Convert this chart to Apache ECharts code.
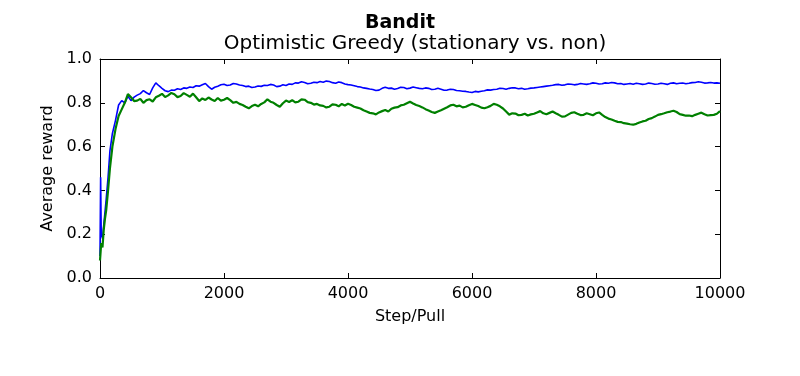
<!DOCTYPE html>
<html>
<head>
<meta charset="utf-8">
<script src="https://cdn.jsdelivr.net/npm/echarts@6/dist/echarts.min.js"></script>
<style>
  html, body { margin: 0; padding: 0; background: #fff; }
  #chart { width: 800px; height: 376px; }
</style>
</head>
<body>
<div id="chart"></div>
<script>
var steps = [0, 10, 20, 40, 60, 80, 100, 130, 160, 200, 250, 300, 350, 400, 450,
  500, 550, 600, 650, 700, 750, 800, 850, 900, 950,
  1000, 1050, 1100, 1150, 1200, 1250, 1300, 1350, 1400, 1450, 1500, 1550, 1600, 1650, 1700, 1750, 1800, 1850, 1900, 1950,
  2000, 2050, 2100, 2150, 2200, 2250, 2300, 2350, 2400, 2450, 2500, 2550, 2600, 2650, 2700, 2750, 2800, 2850, 2900, 2950,
  3000, 3050, 3100, 3150, 3200, 3250, 3300, 3350, 3400, 3450, 3500, 3550, 3600, 3650, 3700, 3750, 3800, 3850, 3900, 3950,
  4000, 4050, 4100, 4150, 4200, 4250, 4300, 4350, 4400, 4450, 4500, 4550, 4600, 4650, 4700, 4750, 4800, 4850, 4900, 4950,
  5000, 5050, 5100, 5150, 5200, 5250, 5300, 5350, 5400, 5450, 5500, 5550, 5600, 5650, 5700, 5750, 5800, 5850, 5900, 5950,
  6000, 6050, 6100, 6150, 6200, 6250, 6300, 6350, 6400, 6450, 6500, 6550, 6600, 6650, 6700, 6750, 6800, 6850, 6900, 6950,
  7000, 7050, 7100, 7150, 7200, 7250, 7300, 7350, 7400, 7450, 7500, 7550, 7600, 7650, 7700, 7750, 7800, 7850, 7900, 7950,
  8000, 8050, 8100, 8150, 8200, 8250, 8300, 8350, 8400, 8450, 8500, 8550, 8600, 8650, 8700, 8750, 8800, 8850, 8900, 8950,
  9000, 9050, 9100, 9150, 9200, 9250, 9300, 9350, 9400, 9450, 9500, 9550, 9600, 9650, 9700, 9750, 9800, 9850, 9900, 9950,
  10000];

// stationary bandit (blue)
var stationary = [0.10, 0.46, 0.20, 0.18, 0.24, 0.30, 0.36, 0.46, 0.58, 0.66, 0.72, 0.79, 0.81, 0.80, 0.83,
  0.810, 0.826, 0.835, 0.842, 0.856, 0.846, 0.838, 0.868, 0.891, 0.878,
  0.866, 0.855, 0.851, 0.858, 0.857, 0.864, 0.861, 0.868, 0.866, 0.872, 0.870, 0.878, 0.876, 0.882, 0.888, 0.874, 0.862, 0.871, 0.876, 0.882,
  0.885, 0.879, 0.881, 0.888, 0.886, 0.881, 0.879, 0.874, 0.876, 0.870, 0.872, 0.877, 0.875, 0.880, 0.879, 0.884, 0.881, 0.874, 0.876, 0.882,
  0.879, 0.886, 0.884, 0.891, 0.890, 0.896, 0.893, 0.887, 0.889, 0.894, 0.892, 0.897, 0.894, 0.899, 0.897, 0.892, 0.889, 0.895, 0.892, 0.886,
  0.883, 0.881, 0.878, 0.874, 0.872, 0.868, 0.866, 0.863, 0.861, 0.856, 0.858, 0.866, 0.871, 0.866, 0.867, 0.862, 0.865, 0.871, 0.870, 0.864,
  0.867, 0.872, 0.869, 0.866, 0.864, 0.868, 0.866, 0.861, 0.862, 0.866, 0.862, 0.857, 0.858, 0.862, 0.861, 0.856, 0.855, 0.853, 0.852, 0.849,
  0.847, 0.852, 0.850, 0.853, 0.855, 0.859, 0.858, 0.861, 0.862, 0.866, 0.865, 0.862, 0.866, 0.869, 0.868, 0.864, 0.866, 0.862, 0.864, 0.867,
  0.868, 0.870, 0.872, 0.874, 0.876, 0.878, 0.880, 0.883, 0.884, 0.880, 0.882, 0.886, 0.885, 0.882, 0.884, 0.888, 0.886, 0.884, 0.887, 0.891,
  0.889, 0.886, 0.887, 0.891, 0.889, 0.893, 0.891, 0.887, 0.888, 0.884, 0.886, 0.888, 0.885, 0.889, 0.887, 0.884, 0.886, 0.890, 0.888, 0.885,
  0.886, 0.889, 0.887, 0.884, 0.889, 0.891, 0.887, 0.889, 0.890, 0.887, 0.889, 0.892, 0.893, 0.896, 0.894, 0.890, 0.891, 0.893, 0.890, 0.891,
  0.889];

// non-stationary bandit (green)
var nonStationary = [0.08, 0.12, 0.16, 0.14, 0.22, 0.27, 0.31, 0.40, 0.50, 0.60, 0.68, 0.74, 0.77, 0.80, 0.84,
  0.825, 0.808, 0.810, 0.818, 0.800, 0.812, 0.816, 0.806, 0.825, 0.832,
  0.841, 0.826, 0.834, 0.845, 0.839, 0.826, 0.831, 0.844, 0.836, 0.828, 0.842, 0.825, 0.808, 0.820, 0.813, 0.824, 0.815, 0.808, 0.822, 0.810,
  0.814, 0.822, 0.812, 0.800, 0.804, 0.795, 0.790, 0.782, 0.775, 0.785, 0.791, 0.784, 0.795, 0.802, 0.816, 0.805, 0.800, 0.790, 0.782, 0.798,
  0.810, 0.804, 0.812, 0.802, 0.805, 0.816, 0.814, 0.803, 0.800, 0.792, 0.795, 0.788, 0.786, 0.779, 0.782, 0.793, 0.791, 0.784, 0.795, 0.788,
  0.796, 0.790, 0.782, 0.778, 0.774, 0.766, 0.760, 0.754, 0.752, 0.747, 0.756, 0.762, 0.767, 0.760, 0.773, 0.778, 0.780, 0.788, 0.791, 0.798,
  0.805, 0.797, 0.790, 0.785, 0.779, 0.771, 0.765, 0.758, 0.754, 0.760, 0.766, 0.773, 0.780, 0.788, 0.791, 0.784, 0.787, 0.779, 0.782, 0.789,
  0.795, 0.790, 0.785, 0.778, 0.775, 0.780, 0.786, 0.795, 0.791, 0.784, 0.774, 0.760, 0.746, 0.752, 0.751, 0.743, 0.745, 0.750, 0.742, 0.747,
  0.750, 0.756, 0.762, 0.752, 0.748, 0.754, 0.760, 0.752, 0.745, 0.737, 0.738, 0.746, 0.754, 0.757, 0.750, 0.744, 0.745, 0.752, 0.748, 0.743,
  0.752, 0.756, 0.745, 0.735, 0.728, 0.724, 0.718, 0.713, 0.712, 0.707, 0.705, 0.702, 0.700, 0.704, 0.710, 0.715, 0.718, 0.726, 0.730, 0.737,
  0.745, 0.748, 0.752, 0.757, 0.760, 0.764, 0.758, 0.748, 0.745, 0.741, 0.742, 0.739, 0.745, 0.750, 0.755, 0.748, 0.742, 0.744, 0.745, 0.750,
  0.762];

var font = 'DejaVu Sans';

var toPairs = function (ys) {
  return steps.map(function (s, i) { return [s, ys[i]]; });
};

var axisLine = { show: true, onZero: false, lineStyle: { color: '#000', width: 1 } };
var tick = { show: true, inside: true, length: 5, lineStyle: { color: '#000', width: 1 } };

var option = {
  animation: false,
  backgroundColor: '#fff',
  textStyle: { fontFamily: font, color: '#000' },
  title: [
    {
      text: 'Bandit',
      left: 'center',
      top: 9,
      textStyle: { fontFamily: font, fontSize: 19, fontWeight: 'bold', color: '#000' }
    },
    {
      text: 'Optimistic Greedy (stationary vs. non)',
      left: 410,
      textAlign: 'center',
      top: 29,
      textStyle: { fontFamily: font, fontSize: 20, fontWeight: 'normal', color: '#000' }
    }
  ],
  grid: { left: 100, right: 80, top: 59, bottom: 98, containLabel: false },
  xAxis: [
    {
      type: 'value',
      min: 0,
      max: 10000,
      interval: 2000,
      name: 'Step/Pull',
      nameLocation: 'middle',
      nameGap: 31,
      nameTextStyle: { fontFamily: font, fontSize: 16, color: '#000' },
      axisLine: axisLine,
      axisTick: tick,
      splitLine: { show: false },
      axisLabel: {
        fontFamily: font, fontSize: 16, color: '#000', margin: 8,
        formatter: function (v) { return String(v); }
      }
    },
    {
      type: 'value',
      position: 'top',
      min: 0,
      max: 10000,
      interval: 2000,
      axisLine: axisLine,
      axisTick: tick,
      splitLine: { show: false },
      axisLabel: { show: false }
    }
  ],
  yAxis: [
    {
      type: 'value',
      min: 0,
      max: 1,
      interval: 0.2,
      name: 'Average reward',
      nameLocation: 'middle',
      nameGap: 38,
      nameTextStyle: { fontFamily: font, fontSize: 16, color: '#000' },
      axisLine: axisLine,
      axisTick: tick,
      splitLine: { show: false },
      axisLabel: {
        fontFamily: font, fontSize: 16, color: '#000', margin: 8,
        formatter: function (v) { return v.toFixed(1); }
      }
    },
    {
      type: 'value',
      position: 'right',
      min: 0,
      max: 1,
      interval: 0.2,
      axisLine: axisLine,
      axisTick: tick,
      splitLine: { show: false },
      axisLabel: { show: false }
    }
  ],
  series: [
    {
      name: 'stationary',
      type: 'line',
      data: toPairs(stationary),
      showSymbol: false,
      symbol: 'none',
      lineStyle: { color: '#0000ff', width: 1.6 },
      z: 3
    },
    {
      name: 'non-stationary',
      type: 'line',
      data: toPairs(nonStationary),
      showSymbol: false,
      symbol: 'none',
      lineStyle: { color: '#008000', width: 2.2 },
      z: 4
    }
  ]
};

var chart = echarts.init(document.getElementById('chart'));
chart.setOption(option);
</script>
</body>
</html>
